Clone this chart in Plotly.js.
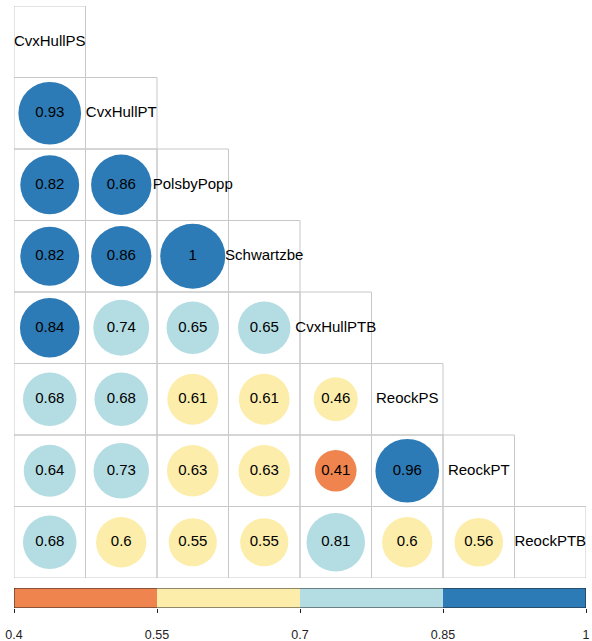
<!DOCTYPE html>
<html>
<head>
<meta charset="utf-8">
<script src="https://cdn.plot.ly/plotly-3.0.1.min.js"></script>
<style>html,body{margin:0;padding:0;background:#fff;}#chart{width:592px;height:641px;}</style>
</head>
<body>
<div id="chart"></div>
<script>
// ---- data ----
const variables = ["CvxHullPS", "CvxHullPT", "PolsbyPopp", "Schwartzbe", "CvxHullPTB", "ReockPS", "ReockPT", "ReockPTB"];
// lower triangle rows (row i has i values, columns 0..i-1)
const corrRows = [
  [],
  [0.93],
  [0.82, 0.86],
  [0.82, 0.86, 1],
  [0.84, 0.74, 0.65, 0.65],
  [0.68, 0.68, 0.61, 0.61, 0.46],
  [0.64, 0.73, 0.63, 0.63, 0.41, 0.96],
  [0.68, 0.6, 0.55, 0.55, 0.81, 0.6, 0.56]
];
const colorbarTicks = [0.4, 0.55, 0.7, 0.85, 1];
const colorbarLabels = ["0.4", "0.55", "0.7", "0.85", "1"];
const binColors = ["#F0844E", "#FDEDAB", "#B4DDE3", "#2D7BB6"];
const colorBreaks = [0.44, 0.635, 0.815]; // bin boundaries used for the circles

// ---- build ----
function colorFor(v) {
  let k = 0;
  while (k < colorBreaks.length && v >= colorBreaks[k]) k++;
  return binColors[k];
}
const cx = [], cy = [], cv = [], ctext = [], ccol = [], csize = [];
corrRows.forEach((row, i) => {
  row.forEach((v, j) => {
    cx.push(j); cy.push(i); cv.push(v);
    ctext.push(String(v));
    ccol.push(colorFor(v));
    csize.push(65 * Math.sqrt(Math.abs(v)));
  });
});
const shapes = [];
for (let i = 0; i < variables.length; i++) {
  for (let j = 0; j <= i; j++) {
    shapes.push({type: "rect", xref: "x", yref: "y", x0: j - 0.5, x1: j + 0.5, y0: i - 0.5, y1: i + 0.5,
      line: {color: "#C8C8C8", width: 1}, layer: "below"});
  }
}
shapes.push({type: "rect", xref: "x2", yref: "y2", x0: colorbarTicks[0], x1: colorbarTicks[colorbarTicks.length - 1],
  y0: -0.5, y1: 0.5, line: {color: "#222", width: 1}, layer: "above"});

const font = "Arial, 'Liberation Sans', sans-serif";
const traces = [
  {type: "scatter", mode: "markers+text", x: cx, y: cy, text: ctext, textposition: "middle center",
   textfont: {family: font, size: 15, color: "#000"},
   marker: {size: csize, color: ccol, line: {width: 0}, opacity: 1}, hoverinfo: "skip", cliponaxis: false},
  {type: "scatter", mode: "text", x: variables.map((_, i) => i), y: variables.map((_, i) => i), text: variables,
   textposition: "middle center", textfont: {family: font, size: 15, color: "#000"}, hoverinfo: "skip", cliponaxis: false},
  {type: "bar", orientation: "h", xaxis: "x2", yaxis: "y2",
   base: colorbarTicks.slice(0, -1),
   x: colorbarTicks.slice(1).map((t, k) => t - colorbarTicks[k]),
   y: [0, 0, 0, 0], width: 1, marker: {color: binColors, line: {width: 0}}, hoverinfo: "skip"}
];
const layout = {
  width: 592, height: 641,
  margin: {l: 14, r: 6, t: 6, b: 33},
  paper_bgcolor: "#fff", plot_bgcolor: "#fff",
  showlegend: false, bargap: 0,
  xaxis: {domain: [0, 1], range: [-0.5, 7.5], showgrid: false, zeroline: false, showticklabels: false, showline: false, ticks: ""},
  yaxis: {domain: [30 / 602, 1], range: [7.5, -0.5], showgrid: false, zeroline: false, showticklabels: false, showline: false, ticks: ""},
  xaxis2: {domain: [0, 1], anchor: "y2", range: [0.4, 1], showgrid: false, zeroline: false, showline: false,
    tickmode: "array", tickvals: colorbarTicks, ticktext: colorbarLabels, ticks: "outside", ticklen: 4, tickwidth: 1,
    tickcolor: "#222", ticklabelstandoff: 11, tickfont: {family: font, size: 12.5, color: "#222"}},
  yaxis2: {domain: [0, 20 / 602], anchor: "x2", range: [-0.5, 0.5], showgrid: false, zeroline: false, showticklabels: false, ticks: ""},
  shapes: shapes
};
Plotly.newPlot("chart", traces, layout, {displayModeBar: false, staticPlot: true});
</script>
</body>
</html>
